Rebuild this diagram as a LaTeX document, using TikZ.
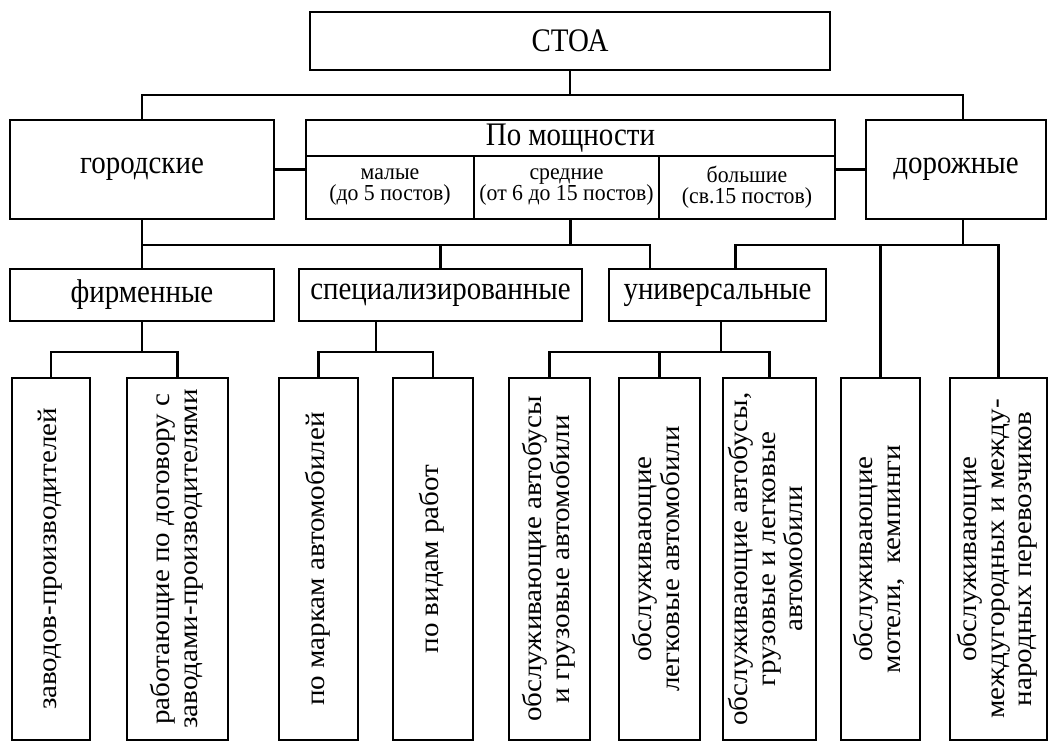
\documentclass[tikz,border=0pt]{standalone}
\usepackage{fontspec}
\setmainfont[FakeStretch=0.88]{Liberation Serif}
\newfontfamily\cellfont[FakeStretch=0.95]{Liberation Serif}
\newfontfamily\leaffont[FakeStretch=1.08]{Liberation Serif}
\newcommand{\vtxt}[1]{\rotatebox{90}{\begin{tabular}{@{}c@{}}#1\end{tabular}}}
\begin{document}
\begin{tikzpicture}[x=1bp,y=-1bp,
  box/.style={draw, line width=2.2bp, inner sep=0pt, align=center},
  link/.style={line width=2.2bp},
  big/.style={font=\fontsize{33}{36}\selectfont},
  small/.style={font=\cellfont\fontsize{23}{21}\selectfont},
  vert/.style={box, minimum height=362bp, font=\leaffont\fontsize{27}{28}\selectfont}]
\useasboundingbox (0,0) rectangle (1051,742);

% root
\node[box,big,minimum width=520bp,minimum height=58bp] (stoa) at (570,41) {СТОА};

% second row
\node[box,big,minimum width=264bp,minimum height=99bp] (gor) at (142,169.5) {\raisebox{8bp}{городские}};
\node[box,big,minimum width=529bp,minimum height=36bp] (pmh) at (570.5,138) {По мощности};
\node[box,small,minimum width=168bp,minimum height=63bp] (c1) at (390,187.5) {малые\\(до 5 постов)};
\node[box,small,minimum width=185bp,minimum height=63bp] (c2) at (566.5,187.5) {средние\\(от 6 до 15 постов)};
\node[box,small,minimum width=176bp,minimum height=63bp] (c3) at (747,187.5) {большие\\(св.15 постов)};
\node[box,big,minimum width=180bp,minimum height=99bp] (dor) at (956,169.5) {\raisebox{8bp}{дорожные}};

% third row
\node[box,big,minimum width=264bp,minimum height=52bp] (firm) at (142,295) {фирменные};
\node[box,big,minimum width=283bp,minimum height=52bp] (spec) at (440.5,295) {специализированные};
\node[box,big,minimum width=217bp,minimum height=52bp] (univ) at (717.5,295) {универсальные};

% leaves
\node[vert,minimum width=78bp] (b1) at (51,559) {\vtxt{заводов-производителей}};
\node[vert,minimum width=101bp] (b2) at (177.5,559) {\vtxt{работающие по договору с\\заводами-производителями}};
\node[vert,minimum width=79bp] (b3) at (318.5,559) {\vtxt{по маркам автомобилей}};
\node[vert,minimum width=80bp] (b4) at (433,559) {\vtxt{по видам работ}};
\node[vert,minimum width=81bp] (b5) at (549.5,559) {\vtxt{обслуживающие автобусы\\и грузовые автомобили}};
\node[vert,minimum width=81bp] (b6) at (659.5,559) {\vtxt{обслуживающие\\легковые автомобили}};
\node[vert,minimum width=93bp] (b7) at (769.5,559) {\vtxt{обслуживающие автобусы,\\грузовые и легковые\\автомобили}};
\node[vert,minimum width=79bp] (b8) at (880.5,559) {\vtxt{обслуживающие\\мотели,\ \ кемпинги}};
\node[vert,minimum width=97bp] (b9) at (998.5,559) {\vtxt{обслуживающие\\междугородных и между-\\народных перевозчиков}};

% bus levels and attachment points
\coordinate (topbus) at (0,95);
\coordinate (midbus) at (0,245);
\coordinate (lowbus) at (0,352);
\coordinate (dorup) at ([xshift=7bp]dor.north);
\coordinate (dordn) at ([xshift=7bp]dor.south);
\coordinate (uin1) at ([xshift=-67.5bp]univ.north);
\coordinate (uin2) at ([xshift=18bp]univ.north);
\coordinate (specdn) at ([xshift=-64.5bp]spec.south);
\coordinate (univdn) at ([xshift=3.5bp]univ.south);

% root to second row
\draw[link] (stoa.south) -- (stoa.south |- topbus);
\draw[link] (gor.north) -- (gor.north |- topbus) -- (dorup |- topbus) -- (dorup);
\draw[link] (gor.east) -- (gor.east -| c1.west);
\draw[link] (dor.west) -- (dor.west -| c3.east);

% second row to third row
\draw[link] (gor.south) -- (firm.north);
\draw[link] (c2.south -| pmh.south) -- (pmh.south |- midbus);
\draw[link] (firm.north |- midbus) -- (uin1 |- midbus) -- (uin1);
\draw[link] (spec.north) -- (spec.north |- midbus);
\draw[link] (dordn) -- (dordn |- midbus);
\draw[link] (uin2) -- (uin2 |- midbus) -- (b9.north |- midbus) -- (b9.north);
\draw[link] (b8.north) -- (b8.north |- midbus);

% third row to leaves
\draw[link] (firm.south) -- (firm.south |- lowbus);
\draw[link] (b1.north) -- (b1.north |- lowbus) -- (b2.north |- lowbus) -- (b2.north);
\draw[link] (specdn) -- (specdn |- lowbus);
\draw[link] (b3.north) -- (b3.north |- lowbus) -- (b4.north |- lowbus) -- (b4.north);
\draw[link] (univdn) -- (univdn |- lowbus);
\draw[link] (b5.north) -- (b5.north |- lowbus) -- (b7.north |- lowbus) -- (b7.north);
\draw[link] (b6.north) -- (b6.north |- lowbus);
\end{tikzpicture}
\end{document}
